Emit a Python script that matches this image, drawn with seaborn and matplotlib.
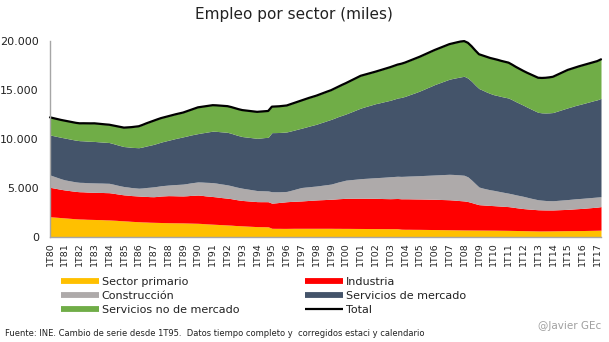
import numpy as np
import pandas as pd
import matplotlib
matplotlib.use("Agg")
import matplotlib.pyplot as plt
import seaborn as sns
from matplotlib.lines import Line2D
from matplotlib.ticker import FuncFormatter

# ---------------- data (miles de empleos, equivalentes tiempo completo) ----------------
years = list(range(1980, 2018))
quarters = [f"{q}T{str(y)[2:]}" for y in years for q in range(1, 5)][:150]

sector_primario = [
    2070, 2040, 2010, 1980,  1950, 1920, 1890, 1860,  1840, 1830, 1810, 1800,
    1790, 1780, 1770, 1750,  1740, 1720, 1700, 1670,  1650, 1630, 1600, 1580,
    1560, 1540, 1530, 1510,  1500, 1490, 1480, 1470,  1460, 1455, 1450, 1445,
    1440, 1430, 1420, 1410,  1400, 1380, 1350, 1330,  1310, 1290, 1270, 1250,
    1230, 1210, 1180, 1160,  1140, 1120, 1100, 1080,  1060, 1055, 1050, 1040,
    890, 885, 885, 880,      880, 885, 890, 890,      890, 890, 890, 890,
    890, 890, 890, 890,      890, 885, 885, 880,      880, 878, 875, 872,
    870, 868, 865, 862,      860, 858, 855, 852,      850, 850, 845, 800,
    790, 790, 785, 782,      780, 775, 770, 765,      760, 755, 750, 745,
    740, 735, 730, 725,      720, 718, 715, 712,      710, 708, 705, 702,
    700, 695, 690, 685,      680, 672, 665, 658,      650, 642, 635, 628,
    620, 620, 622, 625,      630, 635, 640, 645,      650, 652, 655, 658,
    660, 668, 675, 682,      690, 700,
]

industria = [
    3000, 2960, 2920, 2880,  2850, 2830, 2810, 2790,  2780, 2780, 2775, 2770,
    2770, 2770, 2775, 2780,  2780, 2750, 2710, 2680,  2650, 2640, 2630, 2625,
    2620, 2615, 2610, 2610,  2610, 2650, 2700, 2730,  2760, 2760, 2755, 2750,
    2750, 2780, 2820, 2850,  2880, 2870, 2850, 2835,  2820, 2800, 2770, 2750,
    2730, 2700, 2660, 2620,  2590, 2580, 2570, 2560,  2550, 2550, 2555, 2560,
    2560, 2600, 2640, 2680,  2720, 2740, 2755, 2770,  2790, 2815, 2840, 2865,
    2890, 2910, 2925, 2945,  2960, 2990, 3020, 3045,  3070, 3075, 3080, 3085,
    3090, 3090, 3090, 3090,  3090, 3080, 3070, 3065,  3060, 3070, 3085, 3100,
    3110, 3108, 3105, 3102,  3100, 3098, 3095, 3092,  3090, 3082, 3075, 3068,
    3060, 3040, 3010, 2985,  2960, 2900, 2800, 2690,  2590, 2565, 2540, 2520,
    2500, 2480, 2460, 2440,  2420, 2380, 2330, 2290,  2250, 2225, 2200, 2180,
    2160, 2150, 2140, 2135,  2130, 2140, 2150, 2160,  2170, 2195, 2220, 2240,
    2260, 2285, 2310, 2335,  2360, 2400,
]

construccion = [
    1260, 1200, 1140, 1080,  1030, 1010, 990, 975,    960, 960, 960, 960,
    960, 960, 960, 960,      960, 930, 900, 875,      850, 835, 820, 810,
    800, 850, 910, 960,      1010, 1030, 1050, 1065,  1080, 1115, 1150, 1180,
    1210, 1245, 1280, 1310,  1340, 1360, 1385, 1405,  1420, 1410, 1395, 1380,
    1360, 1330, 1300, 1275,  1250, 1220, 1190, 1160,  1130, 1120, 1110, 1100,
    1170, 1130, 1090, 1070,  1050, 1120, 1200, 1290,  1370, 1385, 1395, 1410,
    1420, 1450, 1485, 1515,  1550, 1630, 1710, 1780,  1850, 1885, 1920, 1955,
    1990, 2020, 2045, 2075,  2100, 2135, 2170, 2205,  2240, 2255, 2270, 2285,
    2300, 2320, 2340, 2360,  2380, 2405, 2430, 2455,  2480, 2510, 2540, 2570,
    2600, 2610, 2620, 2625,  2620, 2520, 2300, 2050,  1800, 1720, 1660, 1600,
    1560, 1510, 1460, 1415,  1370, 1340, 1310, 1280,  1250, 1190, 1130, 1075,
    1020, 990, 965, 950,     940, 955, 970, 985,      1000, 1010, 1020, 1025,
    1030, 1030, 1030, 1030,  1030, 1010,
]

servicios_mercado = [
    4080, 4130, 4180, 4230,  4270, 4265, 4260, 4255,  4250, 4245, 4240, 4235,
    4230, 4210, 4190, 4175,  4160, 4140, 4120, 4100,  4080, 4090, 4100, 4115,
    4130, 4180, 4230, 4280,  4330, 4390, 4450, 4510,  4570, 4630, 4700, 4760,
    4820, 4850, 4880, 4905,  4930, 5010, 5090, 5170,  5250, 5280, 5310, 5335,
    5360, 5340, 5315, 5290,  5270, 5285, 5300, 5315,  5330, 5380, 5430, 5470,
    6030, 6040, 6050, 6060,  6070, 6065, 6060, 6055,  6050, 6110, 6180, 6240,
    6300, 6380, 6450, 6530,  6600, 6640, 6680, 6715,  6750, 6860, 6970, 7090,
    7200, 7290, 7380, 7460,  7550, 7610, 7680, 7740,  7800, 7890, 7980, 8060,
    8150, 8270, 8390, 8510,  8640, 8780, 8930, 9070,  9220, 9340, 9460, 9580,
    9700, 9800, 9900, 10000, 10100, 10080, 10080, 10050, 10050, 9990, 9900, 9830,
    9760, 9750, 9730, 9720,  9710, 9610, 9500, 9400,  9300, 9200, 9110, 9010,
    8920, 8910, 8930, 8960,  9000, 9090, 9180, 9270,  9360, 9430, 9510, 9580,
    9650, 9720, 9790, 9860,  9920, 10040,
]

servicios_no_mercado = [
    1800, 1790, 1785, 1775,  1770, 1770, 1770, 1770,  1770, 1790, 1810, 1830,
    1850, 1840, 1830, 1825,  1820, 1850, 1880, 1905,  1930, 1990, 2060, 2120,
    2190, 2250, 2310, 2370,  2430, 2440, 2450, 2455,  2460, 2465, 2470, 2475,
    2480, 2530, 2580, 2630,  2680, 2670, 2665, 2655,  2650, 2655, 2660, 2665,
    2670, 2680, 2690, 2695,  2700, 2700, 2700, 2700,  2700, 2695, 2690, 2690,
    2650, 2660, 2675, 2690,  2700, 2740, 2780, 2815,  2850, 2870, 2885, 2900,
    2920, 2935, 2950, 2965,  2980, 3020, 3065, 3110,  3150, 3190, 3230, 3265,
    3300, 3290, 3280, 3275,  3270, 3300, 3330, 3355,  3380, 3400, 3415, 3435,
    3450, 3460, 3475, 3490,  3500, 3510, 3515, 3520,  3530, 3540, 3555, 3570,
    3580, 3590, 3600, 3610,  3590, 3600, 3570, 3540,  3500, 3540, 3580, 3620,
    3660, 3650, 3635, 3620,  3610, 3580, 3550, 3525,  3500, 3505, 3515, 3520,
    3530, 3560, 3590, 3620,  3650, 3705, 3760, 3815,  3870, 3885, 3895, 3910,
    3920, 3930, 3935, 3945,  3950, 3980,
]

series_names = ["Sector primario", "Industria", "Construcción",
                "Servicios de mercado", "Servicios no de mercado"]
series_colors = ["#FFC000", "#FF0000", "#AEAAAA", "#44546A", "#70AD47"]

df = pd.DataFrame({
    "Sector primario": sector_primario,
    "Industria": industria,
    "Construcción": construccion,
    "Servicios de mercado": servicios_mercado,
    "Servicios no de mercado": servicios_no_mercado,
}, index=quarters)
df["Total"] = df[series_names].sum(axis=1)

# ---------------- figure ----------------
sns.set_theme(style="white")
plt.rcParams["font.family"] = ["DejaVu Sans"]

W, H = 609, 342
fig = plt.figure(figsize=(W / 100, H / 100), dpi=100)
ax = fig.add_axes([50 / W, 1 - 237 / H, 551 / W, 196 / H])

x = np.arange(len(df))
ax.stackplot(x, *[df[n].values for n in series_names],
             colors=series_colors, linewidth=0, antialiased=True)
sns.lineplot(x=x, y=df["Total"].values, ax=ax, color="black",
             linewidth=1.6, clip_on=False)

ax.set_xlim(0, len(df) - 1)
ax.set_ylim(0, 20000)
ax.set_yticks([0, 5000, 10000, 15000, 20000])
ax.yaxis.set_major_formatter(FuncFormatter(lambda v, p: f"{int(v):,}".replace(",", ".")))
ax.set_xticks(x[::4])
ax.set_xticklabels(df.index[::4], rotation=90, fontsize=6.8, color="#222222")
ax.tick_params(axis="y", labelsize=8, colors="#222222", length=0, pad=8)
ax.tick_params(axis="x", length=0, pad=4)
ax.set_xlabel("")
ax.set_ylabel("")
ax.grid(False)
for s in ["top", "right"]:
    ax.spines[s].set_visible(False)
for s in ["left", "bottom"]:
    ax.spines[s].set_color("#A6A6A6")
    ax.spines[s].set_linewidth(1)

fig.text(294 / W, 1 - 15 / H, "Empleo por sector (miles)", ha="center", va="center",
         fontsize=11, color="#222222")

def h(c, lw=4.2):
    return Line2D([], [], color=c, linewidth=lw, solid_capstyle="butt")

leg_kw = dict(frameon=False, fontsize=8, handlelength=3.4, handletextpad=0.25,
              labelspacing=0.35, borderaxespad=0, borderpad=0, labelcolor="#222222")
leg1 = fig.legend([h(series_colors[0]), h(series_colors[2]), h(series_colors[4])],
                  [series_names[0], series_names[2], series_names[4]],
                  loc="upper left", bbox_to_anchor=(61 / W, 1 - 277 / H), **leg_kw)
leg2 = fig.legend([h(series_colors[1]), h(series_colors[3]), h("black", 1.6)],
                  [series_names[1], series_names[3], "Total"],
                  loc="upper left", bbox_to_anchor=(305 / W, 1 - 277 / H), **leg_kw)

fig.text(5 / W, 1 - 334 / H,
         "Fuente: INE. Cambio de serie desde 1T95.  Datos tiempo completo y  corregidos estaci y calendario",
         ha="left", va="center", fontsize=6, color="#222222")
fig.text(601 / W, 1 - 326 / H, "@Javier GEc", ha="right", va="center",
         fontsize=7.5, color="#A0A0A0")

fig.savefig("out.png", dpi=100)
